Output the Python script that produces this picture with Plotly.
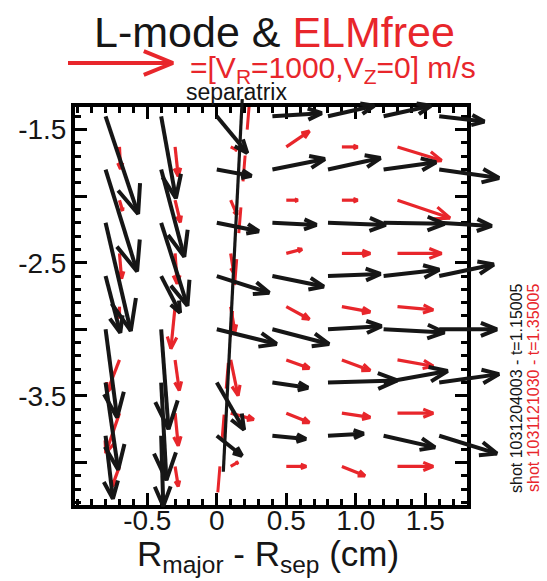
import math
import plotly.graph_objects as go

# ---- L-mode velocity field (shot 1031204003), m/s ----
BLACK_R = [-0.8, -0.4, 0.0, 0.4, 0.8, 1.2, 1.6]
BLACK_Z = [-1.4, -1.8, -2.2, -2.6, -3.0, -3.4, -3.8]
BLACK_VR = [
    [310, 140, 290, 470, 440, 450, 430],
    [300, 220, 330, 500, 500, 500, 570],
    [240, 250, 400, 420, 550, 580, 500],
    [140, 180, 500, 490, 500, 530, 520],
    [110, 70, 570, 540, 510, 580, 550],
    [120, 50, 260, 340, 660, 610, 570],
    [70, 20, 240, 320, 340, 490, 550],
]
BLACK_VZ = [
    [-930, -780, -350, 30, 100, 100, -50],
    [-970, -830, -60, 100, 110, 70, -80],
    [-1030, -790, -80, -20, -20, -10, -30],
    [-540, -350, -160, -100, 20, 60, 110],
    [-840, -950, -140, -140, 30, -30, 0],
    [-830, -930, -450, -50, 20, 110, 80],
    [-600, -670, -190, -30, 20, -110, -170],
]

# ---- ELM-free velocity field (shot 1031121030), m/s ----
RED_R = [-0.7, -0.3, 0.1, 0.5, 0.9, 1.3]
RED_Z = [-1.63, -2.03, -2.43, -2.83, -3.23, -3.63, -4.03]
RED_VR = [
    [10, 30, 60, 220, 150, 420],
    [30, 50, 60, 110, 150, 500],
    [20, 20, 30, 150, 270, 420],
    [0, -40, 40, 220, 270, 340],
    [-120, 40, 70, 220, 270, 340],
    [-130, 30, 220, 220, 270, 340],
    [-70, 30, 70, 190, 220, 340],
]
RED_VZ = [
    [-210, -280, -30, 150, 0, -130],
    [-100, -210, -140, 0, 0, -170],
    [-240, -290, -190, 40, 0, 0],
    [-110, -400, -240, -120, -50, -30],
    [-310, -290, -340, -80, -100, -60],
    [-380, -310, -60, -90, -40, 0],
    [-190, -190, 40, 0, -90, 0],
]

# separatrix traces (R - Rsep, Z)
BLACK_SEP_R = [0.183, 0.047]
BLACK_SEP_Z = [-1.27, -4.07]
RED_SEP_R = [0.234, 0.0]
RED_SEP_Z = [-1.305, -4.32]

# reference vector
REF_VR, REF_VZ = 1000, 0

X_TICKS = [-0.5, 0.0, 0.5, 1.0, 1.5]
X_TICKTEXT = ["-0.5", "0", "0.5", "1.0", "1.5"]
Y_TICKS = [-4.0, -3.5, -3.0, -2.5, -2.0, -1.5]
Y_TICKTEXT = ["", "-3.5", "", "-2.5", "", "-1.5"]

BLACK = "#161616"
RED = "#e8262b"
FONT = "Liberation Sans, Arial, Helvetica, sans-serif"

# ---- geometry ----
W, H = 547, 581
PL, PR, PT, PB = 75, 467, 107, 505          # frame box in pixels
XR = [-1.02, 1.80]
YR = [-4.32, -1.33]
kx = (PR - PL) / (XR[1] - XR[0])            # px per cm
ky = (PB - PT) / (YR[1] - YR[0])            # px per unit Z
X2R = [XR[0] - PL / kx, XR[1] + (W - PR) / kx]
Y2R = [YR[0] - (H - PB) / ky, YR[1] + PT / ky]

PX_PER_MS = 0.105        # arrow length scale
HEAD_FRAC = 0.3
HEAD_DEG = 22


def add_arrow(xs, ys, r, z, vr, vz):
    px, py = vr * PX_PER_MS, vz * PX_PER_MS
    L = math.hypot(px, py)
    if L == 0:
        return
    tx, ty = r + px / kx, z + py / ky
    ux, uy = -px / L, -py / L
    h = HEAD_FRAC * L
    heads = []
    for s in (1, -1):
        a = math.radians(HEAD_DEG) * s
        hx = ux * math.cos(a) - uy * math.sin(a)
        hy = ux * math.sin(a) + uy * math.cos(a)
        heads.append((tx + h * hx / kx, ty + h * hy / ky))
    xs += [r, tx, None, heads[0][0], tx, heads[1][0], None]
    ys += [z, ty, None, heads[0][1], ty, heads[1][1], None]


def field_paths(R, Z, VR, VZ):
    xs, ys = [], []
    for i, z in enumerate(Z):
        for j, r in enumerate(R):
            add_arrow(xs, ys, r, z, VR[i][j], VZ[i][j])
    return xs, ys


fig = go.Figure()

# red separatrix, clipped to the frame
fig.add_trace(go.Scatter(x=RED_SEP_R, y=RED_SEP_Z, mode="lines",
                         line=dict(color=RED, width=3, dash="26px,26px"),
                         xaxis="x", yaxis="y", hoverinfo="skip"))

rx, ry = field_paths(RED_R, RED_Z, RED_VR, RED_VZ)
fig.add_trace(go.Scatter(x=rx, y=ry, mode="lines", line=dict(color=RED, width=3.2),
                         xaxis="x2", yaxis="y2", hoverinfo="skip"))

fig.add_trace(go.Scatter(x=BLACK_SEP_R, y=BLACK_SEP_Z, mode="lines",
                         line=dict(color=BLACK, width=3.2),
                         xaxis="x2", yaxis="y2", hoverinfo="skip"))

bx, by = field_paths(BLACK_R, BLACK_Z, BLACK_VR, BLACK_VZ)
fig.add_trace(go.Scatter(x=bx, y=by, mode="lines", line=dict(color=BLACK, width=4),
                         xaxis="x2", yaxis="y2", hoverinfo="skip"))

# reference arrow above the frame
lx, ly = [], []
add_arrow(lx, ly, XR[0] + (68 - PL) / kx, YR[1] + (PT - 63) / ky, REF_VR, REF_VZ)
fig.add_trace(go.Scatter(x=lx, y=ly, mode="lines", line=dict(color=RED, width=4),
                         xaxis="x2", yaxis="y2", hoverinfo="skip"))

axis_common = dict(
    showline=True, linewidth=4, linecolor="black", mirror="ticks",
    ticks="inside", ticklen=12, tickwidth=3, tickcolor="black",
    showgrid=False, zeroline=False, tickmode="array",
    tickfont=dict(size=28, color=BLACK, family=FONT),
    minor=dict(ticks="inside", ticklen=6, tickwidth=2.5, tickcolor="black",
               tickmode="linear", tick0=0, dtick=0.1, showgrid=False),
)

fig.update_layout(
    width=W, height=H,
    margin=dict(l=0, r=0, t=0, b=0, pad=0),
    paper_bgcolor="white", plot_bgcolor="rgba(0,0,0,0)",
    showlegend=False,
    font=dict(family=FONT, color=BLACK),
    xaxis=dict(domain=[PL / W, PR / W], range=XR, anchor="y",
               tickvals=X_TICKS, ticktext=X_TICKTEXT, ticklabelstandoff=-13,
               **axis_common),
    yaxis=dict(domain=[1 - PB / H, 1 - PT / H], range=YR, anchor="x",
               tickvals=Y_TICKS, ticktext=Y_TICKTEXT, ticklabelstandoff=-1,
               **axis_common),
    xaxis2=dict(domain=[0, 1], range=X2R, anchor="y2", visible=False, fixedrange=True),
    yaxis2=dict(domain=[0, 1], range=Y2R, anchor="x2", visible=False, fixedrange=True),
)


def px(x, y):
    return x / W, 1 - y / H


annotations = [
    (274, 32, "L-mode &amp; <span style='color:%s'>ELMfree</span>" % RED, 43, BLACK, 0, "center"),
    (188, 70, "=[V<sub>R</sub>=1000,V<sub>Z</sub>=0] m/s", 30, RED, 0, "left"),
    (236, 92, "separatrix", 23, BLACK, 0, "center"),
    (268, 556, "R<sub>major</sub> - R<sub>sep</sub> (cm)", 35, BLACK, 0, "center"),
    (517, 388, "shot 1031204003 - t=1.15005", 16, BLACK, -90, "center"),
    (534, 388, "shot 1031121030 - t=1.35005", 16, RED, -90, "center"),
]
for x, y, text, size, color, ang, xa in annotations:
    ax, ay = px(x, y)
    fig.add_annotation(x=ax, y=ay, xref="paper", yref="paper", text=text,
                       showarrow=False, textangle=ang, xanchor=xa, yanchor="middle",
                       font=dict(size=size, color=color, family=FONT))

fig.write_html("out.html")
